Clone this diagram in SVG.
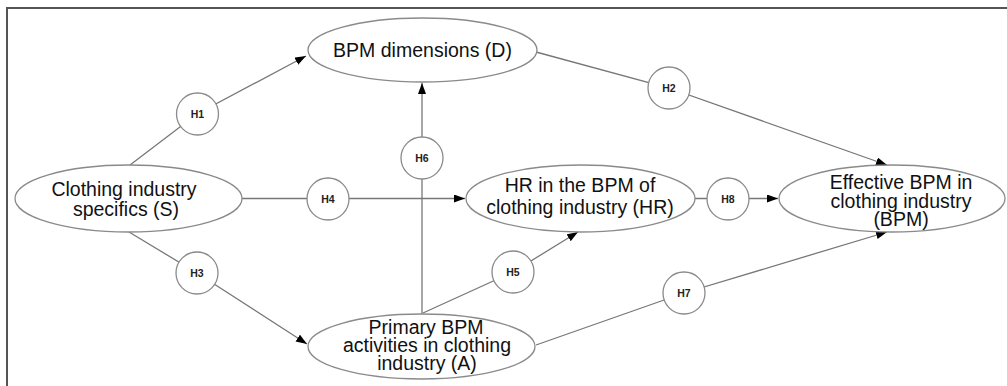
<svg xmlns="http://www.w3.org/2000/svg" width="1007" height="386" viewBox="0 0 1007 386">
<style>
.frame{fill:none;stroke:#555;stroke-width:2}
.node ellipse{fill:#fff;stroke:#8a8a8a;stroke-width:1.3}
.node text{font-family:"Liberation Sans",Arial,sans-serif;font-size:19.5px;fill:#111;text-anchor:middle}
.hyp circle{fill:#fff;stroke:#8a8a8a;stroke-width:1.3}
.hyp text{font-family:"Liberation Sans",Arial,sans-serif;font-size:10.5px;font-weight:bold;fill:#222;text-anchor:middle}
.conn{fill:none;stroke:#777;stroke-width:1.3;marker-end:url(#arr)}
.plain{fill:none;stroke:#777;stroke-width:1.3}
</style>
<defs>
<marker id="arr" markerUnits="userSpaceOnUse" markerWidth="12" markerHeight="9" refX="11" refY="4" orient="auto">
<path d="M0,0 L11,4 L0,8 z" fill="#000"/>
</marker>
</defs>
<rect width="1007" height="386" fill="#fff"/>
<path class="frame" d="M7,387 L7,8 L1008,8"/>
<g id="connectors">
<path class="conn" d="M130,165 L197,114 L306,56"/>
<path class="conn" d="M536,52 L669,88 L887,165"/>
<path class="conn" d="M242,198.5 L328,198.5 L465,198.5"/>
<path class="conn" d="M129,232 L197,273 L307,344"/>
<path class="conn" d="M422,314 L422,158 L422,83"/>
<path class="conn" d="M423,313 L513,272 L578,232"/>
<path class="conn" d="M536,345 L684,293 L887,232"/>
<path class="conn" d="M695,198.5 L728,198.5 L778,198.5"/>
</g>
<g id="node-D" class="node">
<ellipse cx="422.5" cy="50" rx="114.5" ry="32"/>
<text x="422.5" y="57">BPM dimensions (D)</text>
</g>
<g id="node-S" class="node">
<ellipse cx="128.5" cy="198.5" rx="113.5" ry="33.5"/>
<text x="124" y="196">Clothing industry</text>
<text x="126" y="216">specifics (S)</text>
</g>
<g id="node-HR" class="node">
<ellipse cx="580.5" cy="198.5" rx="114.5" ry="33.5"/>
<text x="580" y="192">HR in the BPM of</text>
<text x="580" y="213.5">clothing industry (HR)</text>
</g>
<g id="node-BPM" class="node">
<ellipse cx="892" cy="198.5" rx="113" ry="33.5"/>
<text x="901" y="188.5">Effective BPM in</text>
<text x="901" y="207.5">clothing industry</text>
<text x="901" y="226">(BPM)</text>
</g>
<g id="node-A" class="node">
<ellipse cx="421.5" cy="346.5" rx="113.5" ry="32.5"/>
<text x="426" y="333.5">Primary BPM</text>
<text x="427" y="352">activities in clothing</text>
<text x="427" y="370">industry (A)</text>
</g>
<g id="H1" class="hyp"><circle cx="197.5" cy="114" r="21"/><text x="197.5" y="118">H1</text></g>
<g id="H2" class="hyp"><circle cx="669" cy="88" r="21"/><text x="669" y="92">H2</text></g>
<g id="H3" class="hyp"><circle cx="197" cy="273" r="21"/><text x="197" y="277">H3</text></g>
<g id="H4" class="hyp"><circle cx="328" cy="199" r="21"/><text x="328" y="203">H4</text></g>
<g id="H5" class="hyp"><circle cx="513" cy="272" r="21"/><text x="513" y="276">H5</text></g>
<g id="H6" class="hyp"><circle cx="422" cy="158" r="21"/><text x="422" y="162">H6</text></g>
<g id="H7" class="hyp"><circle cx="684" cy="293" r="21"/><text x="684" y="297">H7</text></g>
<g id="H8" class="hyp"><circle cx="728" cy="199" r="21"/><text x="728" y="203">H8</text></g>
</svg>
